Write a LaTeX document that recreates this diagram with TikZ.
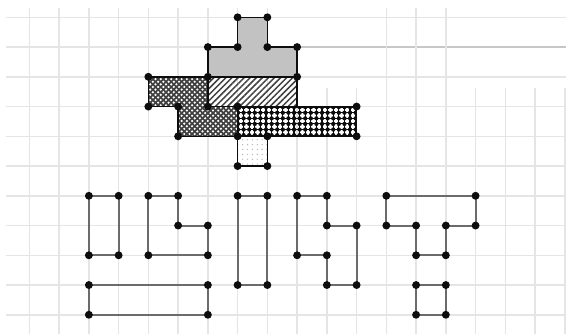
\documentclass[tikz,border=0pt]{standalone}
\usetikzlibrary{patterns,patterns.meta}
\definecolor{TileGrid}{gray}{0.90}
\definecolor{TileGridDark}{gray}{0.78}
\definecolor{TileInk}{gray}{0.05}
\definecolor{TileOutline}{gray}{0.42}
\definecolor{TileShade}{gray}{0.76}
\definecolor{TileDark}{gray}{0.25}
\definecolor{TileFaint}{gray}{0.70}
\tikzdeclarepattern{
    name=tilebeads,
    bottom left={(-.1pt,-.1pt)},
    top right={(3.1pt,3.1pt)},
    tile size={(3pt,3pt)},
    code={
        \draw[line width=.6pt] (0pt,1.5pt) -- (3pt,1.5pt) (1.5pt,0pt) -- (1.5pt,3pt);
        \fill (1.5pt,1.5pt) circle (1.15pt);
    }
}
\tikzdeclarepattern{
    name=tileholes,
    bottom left={(-.1pt,-.1pt)},
    top right={(2.9pt,2.9pt)},
    tile size={(2.8pt,2.8pt)},
    code={
        \fill (.7pt,.7pt) circle (.65pt);
        \fill (2.1pt,2.1pt) circle (.65pt);
    }
}
\tikzset{
    tiles/diagram/.style={
        line cap=round,
        line join=round,
        every node/.style={inner sep=0pt, outer sep=0pt}
    },
    tiles/grid/.style={draw=TileGrid, line width=0.8pt, line cap=butt},
    tiles/seam/.style={draw=TileGridDark, line width=0.8pt, line cap=butt},
    tiles/outline/.style={draw=TileInk, line width=0.8pt},
    tiles/piece/.style={draw=TileOutline, line width=1.1pt},
    tiles/point/.style={circle, fill=TileInk, draw=none, inner sep=1.5pt}
}
\begin{document}
\begin{tikzpicture}[tiles/diagram, x=0.56cm, y=-0.56cm]
    \path[use as bounding box, fill=white] (-0.988,-0.582) rectangle (18.04,10.645);
    \foreach \i in {0,...,18}
        \draw[tiles/grid] (\i,-0.31) -- (\i,10.645);
    \foreach \j in {0,...,10}
        \draw[tiles/grid] (-0.79,\j) -- (18.04,\j);
    \fill[white] (8.76,-0.582) rectangle (18.04,2.38);
    \foreach \j in {0,2}
        \draw[tiles/grid] (8.76,\j) -- (18.04,\j);
    \draw[tiles/seam] (8.76,1) -- (18.04,1);
    \foreach \i in {12,13,14}
        \draw[tiles/grid] (\i,-0.31) -- (\i,2.38);

    \draw[tiles/outline, fill=TileShade]
        (7,0) -- (8,0) -- (8,1) -- (9,1) -- (9,2) -- (6,2) -- (6,1) -- (7,1) -- cycle;
    \draw[tiles/outline, pattern={Lines[angle=45, distance=2.3pt, line width=.8pt]},
        pattern color=TileDark] (6,2) rectangle (9,3);
    \draw[tiles/outline, preaction={fill=TileDark}, pattern=tileholes, pattern color=white]
        (4,2) -- (6,2) -- (6,3) -- (7,3) -- (7,4) -- (5,4) -- (5,3) -- (4,3) -- cycle;
    \draw[tiles/outline, pattern=tilebeads, pattern color=TileInk] (7,3) rectangle (11,4);
    \draw[tiles/outline, pattern={Dots[distance=2.6pt, radius=.35pt]},
        pattern color=TileFaint] (7,4) rectangle (8,5);

    \draw[tiles/piece] (2,6) rectangle (3,8);
    \draw[tiles/piece] (4,6) -- (5,6) -- (5,7) -- (6,7) -- (6,8) -- (4,8) -- cycle;
    \draw[tiles/piece] (2,9) rectangle (6,10);
    \draw[tiles/piece] (7,6) rectangle (8,9);
    \draw[tiles/piece] (9,6) -- (10,6) -- (10,7) -- (11,7) -- (11,9) -- (10,9)
        -- (10,8) -- (9,8) -- cycle;
    \draw[tiles/piece] (12,6) -- (15,6) -- (15,7) -- (14,7) -- (14,8) -- (13,8)
        -- (13,7) -- (12,7) -- cycle;
    \draw[tiles/piece] (13,9) rectangle (14,10);

    \foreach \x/\y in {7/0,8/0,6/1,7/1,8/1,9/1,4/2,6/2,9/2,4/3,5/3,6/3,7/3,11/3,
        5/4,7/4,8/4,11/4,7/5,8/5}
        \node[tiles/point] (top-\x-\y) at (\x,\y) {};
    \foreach \x/\y in {2/6,3/6,2/8,3/8,4/6,5/6,5/7,6/7,6/8,4/8,2/9,6/9,2/10,6/10,
        7/6,8/6,8/9,7/9,9/6,10/6,10/7,11/7,11/9,10/9,10/8,9/8,
        12/6,15/6,15/7,14/7,14/8,13/8,13/7,12/7,13/9,14/9,14/10,13/10}
        \node[tiles/point] (piece-\x-\y) at (\x,\y) {};
\end{tikzpicture}
\end{document}
